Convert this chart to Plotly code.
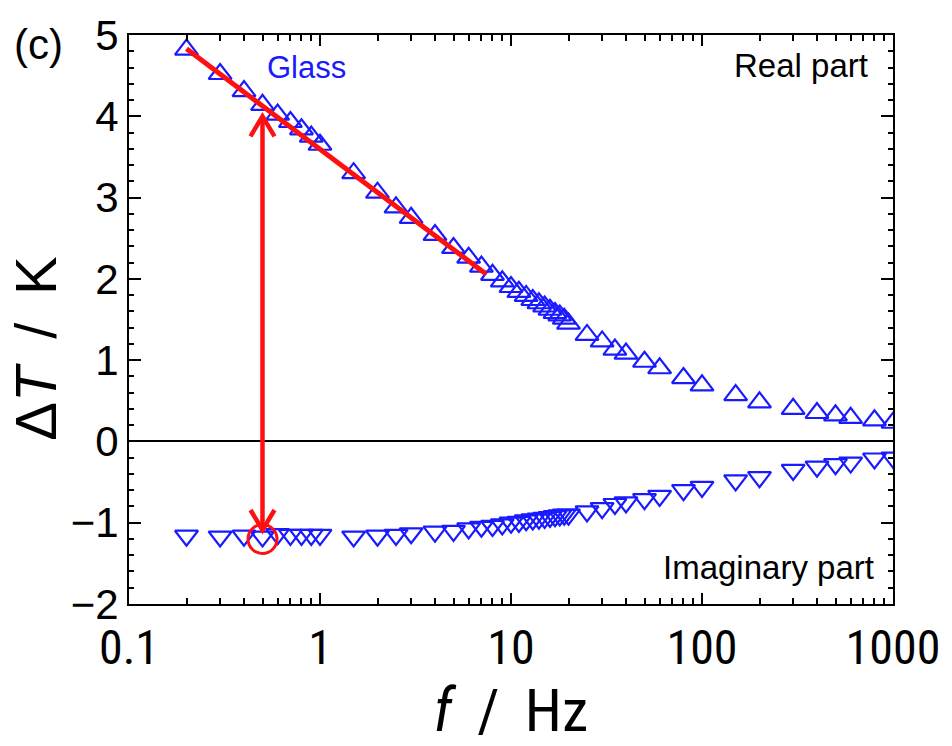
import math
import plotly.graph_objects as go

# ---- data ----
freq = [0.2, 0.3, 0.4, 0.5, 0.6, 0.7, 0.8, 0.9, 1, 1.5, 2, 2.5, 3, 4, 5, 6, 7, 8, 9,
        10, 11, 12, 13, 14, 15, 16, 17, 18, 19, 20, 25, 30, 35, 40, 50, 60, 80, 100,
        150, 200, 300, 400, 500, 600, 800, 1000]
real_part = [4.82, 4.52, 4.31, 4.14, 4.02, 3.93, 3.84, 3.75, 3.65, 3.30, 3.06, 2.88, 2.75,
             2.54, 2.38, 2.26, 2.15, 2.05, 1.97, 1.90, 1.84, 1.79, 1.74, 1.70, 1.66, 1.62,
             1.58, 1.55, 1.51, 1.45, 1.31, 1.23, 1.13, 1.08, 0.98, 0.90, 0.78, 0.69, 0.57,
             0.48, 0.40, 0.35, 0.32, 0.29, 0.26, 0.23]
imag_part = [-1.16, -1.17, -1.16, -1.17, -1.14, -1.15, -1.15, -1.15, -1.15, -1.17, -1.16,
             -1.15, -1.13, -1.11, -1.10, -1.07, -1.05, -1.04, -1.02, -1.00, -0.99, -0.97,
             -0.96, -0.95, -0.94, -0.93, -0.92, -0.91, -0.90, -0.90, -0.86, -0.82, -0.77,
             -0.75, -0.71, -0.67, -0.60, -0.56, -0.48, -0.44, -0.35, -0.31, -0.28, -0.26,
             -0.21, -0.20]
fit_f = [0.2, 7.4]
fit_T = [4.83, 2.06]
arrow_f = 0.5
arrow_top = 4.0
arrow_bottom = -1.09
circle_f = [0.5]
circle_T = [-1.20]

X_RANGE = [-1, 3]  # log10 of 0.1 .. 1000

BLUE = "#1a1aff"
RED = "#ff1010"
FONT = "Liberation Sans, Arial, sans-serif"
NARROW = "Liberation Sans Narrow, Arial Narrow, Roboto Condensed, sans-serif"
NB = "\u00a0"
TH = "\u2009"

fig = go.Figure()
fig.add_trace(go.Scatter(x=freq, y=real_part, mode="markers",
                         marker=dict(symbol="triangle-up-open", size=20, color=BLUE,
                                     line=dict(width=2.2, color=BLUE)),
                         showlegend=False))
fig.add_trace(go.Scatter(x=freq, y=imag_part, mode="markers",
                         marker=dict(symbol="triangle-down-open", size=20, color=BLUE,
                                     line=dict(width=2.2, color=BLUE)),
                         showlegend=False))
fig.add_trace(go.Scatter(x=fit_f, y=fit_T, mode="lines",
                         line=dict(color=RED, width=5), showlegend=False))
fig.add_trace(go.Scatter(x=circle_f, y=circle_T, mode="markers",
                         marker=dict(symbol="circle-open", size=29, color=RED,
                                     line=dict(width=3, color=RED)),
                         showlegend=False))
# vertical double arrow shaft
fig.add_trace(go.Scatter(x=[arrow_f, arrow_f], y=[arrow_bottom, arrow_top], mode="lines",
                         line=dict(color=RED, width=4.5), showlegend=False))

# V-shaped arrow heads (pixel-sized paths anchored at the arrow tips)
arrow_paper_x = (math.log10(arrow_f) - X_RANGE[0]) / (X_RANGE[1] - X_RANGE[0])
for tip, sgn in ((arrow_top, 1), (arrow_bottom, -1)):
    fig.add_shape(type="path", xref="paper", yref="y",
                  xsizemode="pixel", ysizemode="pixel",
                  xanchor=arrow_paper_x, yanchor=tip,
                  path=f"M-12,{-sgn * 20}L0,0L12,{-sgn * 20}",
                  line=dict(color=RED, width=4.5))

fig.add_annotation(x=0.178, y=0.943, xref="paper", yref="paper", text="Glass",
                   showarrow=False, xanchor="left", yanchor="middle",
                   font=dict(family=FONT, size=31, color=BLUE))
fig.add_annotation(x=0.970, y=0.946, xref="paper", yref="paper", text="Real part",
                   showarrow=False, xanchor="right", yanchor="middle",
                   font=dict(family=FONT, size=33, color="black"))
fig.add_annotation(x=0.978, y=0.064, xref="paper", yref="paper", text="Imaginary part",
                   showarrow=False, xanchor="right", yanchor="middle",
                   font=dict(family=FONT, size=33, color="black"))
fig.add_annotation(x=-0.153, y=0.983, xref="paper", yref="paper", text="(c)",
                   showarrow=False, xanchor="left", yanchor="middle",
                   font=dict(family=FONT, size=42, color="black"))
# y-axis title (placed as rotated text)
fig.add_annotation(x=-0.122, y=0.45, xref="paper", yref="paper",
                   text="Δ<i>T</i>" + NB + TH + "/" + TH + NB + "K", textangle=-90,
                   showarrow=False, xanchor="center", yanchor="middle",
                   font=dict(family=FONT, size=58, color="black"))

fig.update_layout(
    width=952, height=746,
    margin=dict(l=129, r=57, t=28, b=141),
    paper_bgcolor="white", plot_bgcolor="white",
    xaxis=dict(type="log", range=X_RANGE, dtick=1, exponentformat="none",
               showline=True, linecolor="black", linewidth=2, mirror="allticks",
               ticks="inside", ticklen=11, tickwidth=1.5, tickcolor="black",
               minor=dict(ticks="inside", ticklen=6, tickwidth=1.5, tickcolor="black", dtick="D1"),
               showgrid=False, zeroline=False,
               tickfont=dict(family=NARROW, size=48, color="black"),
               title=dict(text="<i>f</i>" + NB + TH + "/" + TH + NB + "Hz", standoff=16,
                          font=dict(family=NARROW, size=60, color="black"))),
    yaxis=dict(range=[-2, 5], dtick=1,
               showline=True, linecolor="black", linewidth=2, mirror="allticks",
               ticks="inside", ticklen=12, tickwidth=1.5, tickcolor="black",
               minor=dict(ticks="inside", ticklen=5, tickwidth=1.5, tickcolor="black", dtick=0.2),
               showgrid=False, zeroline=True, zerolinecolor="black", zerolinewidth=1.8,
               tickfont=dict(family=FONT, size=42, color="black")),
)

fig.write_html("out.html")
